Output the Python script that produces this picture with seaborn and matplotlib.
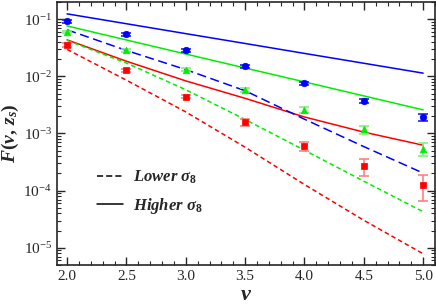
"""
F(nu, z_s) vs nu: simulation points with errors and model curves for two sigma_8 values
"""
import pandas as pd
import seaborn as sns
import matplotlib.pyplot as plt
from matplotlib.lines import Line2D
from matplotlib.ticker import MultipleLocator, LogLocator, NullFormatter

sns.set_style('ticks')
plt.rcParams['font.family'] = 'serif'
plt.rcParams['font.serif'] = ['Liberation Serif', 'DejaVu Serif']
plt.rcParams['mathtext.fontset'] = 'custom'
plt.rcParams['mathtext.it'] = 'Liberation Serif:italic:bold'
plt.rcParams['mathtext.rm'] = 'Liberation Serif:bold'
plt.rcParams['mathtext.bf'] = 'Liberation Serif:bold'

nu = [2.0, 2.5, 3.0, 3.5, 4.0, 4.5, 5.0]

# measured points and errors
blue_pts = [0.092, 0.054, 0.0288, 0.0150, 0.0076, 0.0037, 0.00192]
blue_err = [0.006, 0.004, 0.0018, 0.0010, 0.0004, 0.0003, 0.00027]
green_pts = [0.0597, 0.0284, 0.0131, 0.0058, 0.00259, 0.00118, 0.000546]
green_err = [0.003, 0.0012, 0.0007, 0.0004, 0.0003, 0.0002, 0.000145]
red_pts = [0.0352, 0.0128, 0.00443, 0.00157, 0.00060, 0.000266, 0.000126]
red_err = [0.0025, 0.0008, 0.00025, 0.00021, 0.00011, 0.000085, 0.00006]

# model curves
blue_hi = [0.124, 0.0833, 0.0559, 0.0376, 0.0252, 0.01695, 0.01138]
green_hi = [0.0762, 0.0433, 0.0246, 0.0140, 0.0080, 0.00455, 0.00259]
red_hi = [0.0435, 0.01839, 0.00833, 0.004125, 0.001946, 0.001058, 0.000624]
blue_lo = [0.0653, 0.0284, 0.01313, 0.0056, 0.00178, 0.00059, 0.000203]
green_lo = [0.0426, 0.0171, 0.00583, 0.001758, 0.00051, 0.0001465, 0.0000428]
red_lo = [0.0296, 0.00857, 0.002384, 0.000575, 0.000128, 0.0000303, 0.00000787]

cols = {'blue': '#0000ff', 'green': '#00ee00', 'red': '#ff0000'}
ecols = {'blue': '#2020ff', 'green': '#80f080', 'red': '#ff8080'}
marks = {'blue': 'o', 'green': '^', 'red': 's'}

fig = plt.figure(figsize=(4.36, 3.05), dpi=100)
ax = fig.add_axes([57/436, 40/305, 378/436, 263/305])

curves = [('blue', 'hi', blue_hi), ('green', 'hi', green_hi), ('red', 'hi', red_hi),
          ('blue', 'lo', blue_lo), ('green', 'lo', green_lo), ('red', 'lo', red_lo)]
dash = {'blue': (6, 3), 'green': (3, 2), 'red': (3, 2)}
for c, s, vals in curves:
    df = pd.DataFrame({'nu': nu, 'F': vals})
    if s == 'hi':
        sns.lineplot(data=df, x='nu', y='F', color=cols[c], lw=1.1, ax=ax)
    else:
        sns.lineplot(data=df, x='nu', y='F', color=cols[c], lw=1.1, ax=ax,
                     dashes=False, linestyle=(0, dash[c]))

for c, pts, err in [('blue', blue_pts, blue_err), ('green', green_pts, green_err),
                    ('red', red_pts, red_err)]:
    ax.errorbar(nu, pts, yerr=err, fmt='none', ecolor=ecols[c], elinewidth=1.2,
                capsize=3.5, capthick=1.2, zorder=3)
    sns.scatterplot(x=nu, y=pts, marker=marks[c], color=cols[c], s=22,
                    edgecolor=cols[c], linewidth=0.5, ax=ax, zorder=4)

ax.set_yscale('log')
ax.set_xlim(1.915, 5.1)
ax.set_ylim(5e-6, 0.2)
ax.xaxis.set_major_locator(MultipleLocator(0.5))
ax.xaxis.set_minor_locator(MultipleLocator(0.1))
ax.xaxis.set_major_formatter(plt.FuncFormatter(lambda v, p: f'{v:.1f}'))
ax.yaxis.set_major_locator(LogLocator(base=10, numticks=10))
ax.yaxis.set_minor_locator(LogLocator(base=10, subs=range(2, 10), numticks=20))
ax.yaxis.set_minor_formatter(NullFormatter())
ax.tick_params(which='both', direction='in', top=True, right=True, labelsize=11)
ax.tick_params(which='major', length=6, width=1)
ax.tick_params(which='minor', length=3, width=0.8)
for lab in ax.get_xticklabels() + ax.get_yticklabels():
    lab.set_family('Liberation Serif')
for sp in ax.spines.values():
    sp.set_linewidth(1.2)

ax.set_xlabel(r'$\nu$', fontsize=16, labelpad=2)
ax.set_ylabel(r'$F(\nu,\, z_s)$', fontsize=14, labelpad=2)

handles = [Line2D([], [], color='k', lw=1.1, linestyle=(0, (4, 2))),
           Line2D([], [], color='k', lw=1.1)]
ax.legend(handles, [r'$Lower\ \sigma_8$', r'$Higher\ \sigma_8$'], frameon=False,
          loc='lower left', bbox_to_anchor=(0.065, 0.13), fontsize=12,
          handlelength=1.6, handletextpad=0.6, labelspacing=0.6)

plt.savefig('out.png', dpi=100)
